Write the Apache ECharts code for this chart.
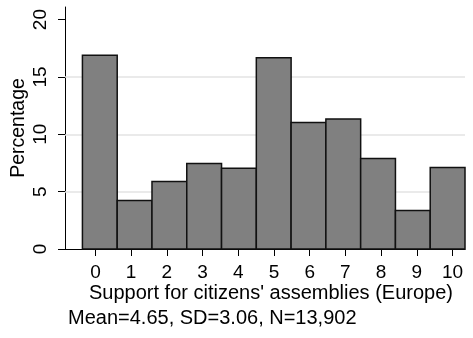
<!DOCTYPE html>
<html>
<head>
<meta charset="utf-8">
<script src="https://cdn.jsdelivr.net/npm/echarts@6/dist/echarts.min.js"></script>
<style>
  html, body { margin: 0; padding: 0; background: #fff; }
  #hist { width: 473px; height: 338px; }
</style>
</head>
<body>
<div id="hist"></div>
<script>
// share of respondents (%) per bin, scores 0..10
const percentages = [16.9, 4.23, 5.89, 7.46, 7.05, 16.68, 11.04, 11.33, 7.9, 3.36, 7.11];
const binStart = -0.364;
const binWidth = 0.974;
const xTicks = [0, 1, 2, 3, 4, 5, 6, 7, 8, 9, 10];
const yTicks = [0, 5, 10, 15, 20];
const gridValues = [5, 10, 15];
const caption = 'Mean=4.65, SD=3.06, N=13,902';

const font = "'Liberation Sans', Arial, Helvetica, sans-serif";

function renderChart() {
    const chart = echarts.init(document.getElementById('hist'));

    const bins = percentages.map((p, i) => [binStart + i * binWidth, binStart + (i + 1) * binWidth, p]);

    const option = {
        animation: false,
        title: {
            text: caption,
            left: 68,
            top: 308,
            padding: 0,
            textStyle: { fontFamily: font, fontSize: 20, fontWeight: 'normal', color: '#000' }
        },
        grid: { left: 65, right: 8, top: 7, bottom: 89, containLabel: false, outerBoundsMode: 'none' },
        xAxis: {
            type: 'value',
            min: -0.852,
            max: binStart + percentages.length * binWidth,
            name: "Support for citizens' assemblies (Europe)",
            nameLocation: 'middle',
            nameGap: 34,
            nameMoveOverlap: false,
            nameTextStyle: { fontFamily: font, fontSize: 20, color: '#000', padding: [0, 0, 0, 12] },
            axisLine: { lineStyle: { color: '#000', width: 1 } },
            axisTick: { show: true, length: 7, customValues: xTicks, lineStyle: { color: '#000' } },
            axisLabel: { customValues: xTicks, margin: 14, fontFamily: font, fontSize: 19, color: '#000' },
            splitLine: { show: false }
        },
        yAxis: {
            type: 'value',
            min: 0,
            max: 21.1,
            name: 'Percentage',
            nameLocation: 'middle',
            nameGap: 36,
            nameMoveOverlap: false,
            nameTextStyle: { fontFamily: font, fontSize: 19.5, color: '#000' },
            axisLine: { show: true, onZero: false, lineStyle: { color: '#000', width: 1 } },
            axisTick: { show: true, length: 7, customValues: yTicks, lineStyle: { color: '#000' } },
            axisLabel: { customValues: yTicks, rotate: 90, margin: 15, fontFamily: font, fontSize: 19, color: '#000' },
            splitLine: { show: false }
        },
        series: [
            {
                type: 'line',
                data: [],
                z: 1,
                markLine: {
                    silent: true,
                    z: 1,
                    symbol: 'none',
                    label: { show: false },
                    lineStyle: { color: '#e3e3e3', width: 1.5, type: 'solid' },
                    data: gridValues.map(v => ({ yAxis: v }))
                }
            },
            {
                type: 'custom',
                z: 10,
                data: bins,
                encode: { x: [0, 1], y: 2 },
                renderItem: function (params, api) {
                    const p0 = api.coord([api.value(0), api.value(2)]);
                    const p1 = api.coord([api.value(1), 0]);
                    return {
                        type: 'rect',
                        shape: { x: p0[0], y: p0[1], width: p1[0] - p0[0], height: p1[1] - p0[1] },
                        style: { fill: '#808080', stroke: '#111', lineWidth: 1.5 }
                    };
                }
            }
        ]
    };

    chart.setOption(option);
}

document.addEventListener('DOMContentLoaded', renderChart);
</script>
</body>
</html>
